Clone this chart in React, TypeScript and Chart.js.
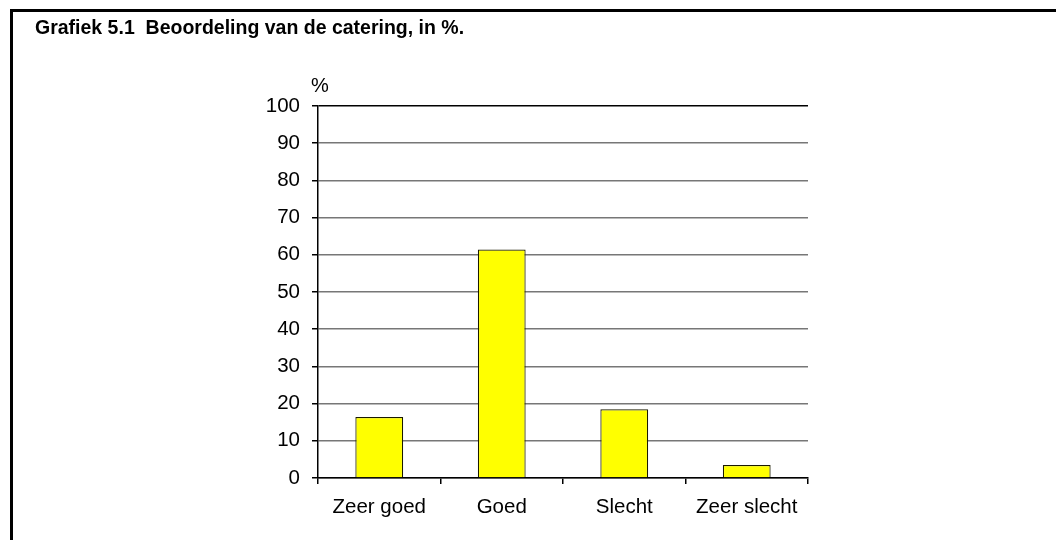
import React, { useEffect, useRef } from "react";
import { Chart, registerables } from "chart.js";

Chart.register(...registerables);

const categories = ["Zeer goed", "Goed", "Slecht", "Zeer slecht"];
const values = [16.4, 61.4, 18.5, 3.5];
const yMin = 0;
const yMax = 100;
const yStep = 10;
const titleText = "Grafiek 5.1  Beoordeling van de catering, in %.";
const unitLabel = "%";

const FONT = '"Liberation Sans", Arial, sans-serif';

export default function App() {
  const canvasRef = useRef<HTMLCanvasElement | null>(null);

  useEffect(() => {
    if (!canvasRef.current) return;
    const unitPlugin = {
      id: "unitLabel",
      afterDraw(chart: any) {
        const { ctx, chartArea } = chart;
        ctx.save();
        ctx.font = `20px ${FONT}`;
        ctx.fillStyle = "#000";
        ctx.textAlign = "center";
        ctx.textBaseline = "middle";
        ctx.fillText(unitLabel, chartArea.left + 2, 86);
        ctx.restore();
      },
    };
    const chart = new Chart(canvasRef.current, {
      type: "bar",
      data: {
        labels: categories,
        datasets: [
          {
            data: values,
            backgroundColor: "#FFFF00",
            borderColor: "#1a1a00",
            borderWidth: 1.2,
            barPercentage: 0.39,
            categoryPercentage: 1,
          },
        ],
      },
      options: {
        animation: false,
        responsive: false,
        maintainAspectRatio: false,
        layout: { padding: { left: 35, right: 248, top: 0, bottom: 0 } },
        plugins: {
          legend: { display: false },
          tooltip: { enabled: false },
          title: {
            display: true,
            text: titleText,
            align: "start",
            color: "#000",
            font: { family: FONT, size: 19.5, weight: "bold", lineHeight: 1.2 },
            padding: { top: 17, bottom: 65.6 },
          },
        },
        scales: {
          x: {
            offset: true,
            afterFit(scale: any) {
              scale.height = 62;
            },
            grid: {
              offset: true,
              drawOnChartArea: true,
              color: (ctx: any) => (ctx.index === categories.length ? "#000" : "rgba(0,0,0,0)"),
              lineWidth: 1.5,
              tickLength: 6,
              tickColor: "#000",
            },
            border: { display: true, color: "#000", width: 1.5 },
            ticks: {
              color: "#000",
              font: { family: FONT, size: 20.5 },
              padding: 11,
              maxRotation: 0,
            },
          },
          y: {
            min: yMin,
            max: yMax,
            afterFit(scale: any) {
              scale.width = 283;
            },
            grid: {
              color: (ctx: any) => (ctx.tick && ctx.tick.value === yMax ? "#000" : "#777"),
              lineWidth: 1.5,
              tickLength: 6,
              tickColor: "#000",
            },
            border: { display: true, color: "#000", width: 1.5 },
            ticks: {
              stepSize: yStep,
              color: "#000",
              font: { family: FONT, size: 20.5 },
              padding: 12,
            },
          },
        },
      },
      plugins: [unitPlugin],
    });
    return () => chart.destroy();
  }, []);

  return (
    <div
      style={{
        position: "fixed",
        left: 0,
        top: 0,
        width: 1056,
        height: 540,
        overflow: "hidden",
        background: "#fff",
      }}
    >
      <div
        style={{
          position: "absolute",
          left: 10,
          top: 9,
          width: 2000,
          height: 2000,
          borderTop: "3px solid #000",
          borderLeft: "3px solid #000",
        }}
      />
      <canvas
        ref={canvasRef}
        width={1056}
        height={540}
        style={{ position: "absolute", left: 0, top: 0, width: 1056, height: 540 }}
      />
    </div>
  );
}
